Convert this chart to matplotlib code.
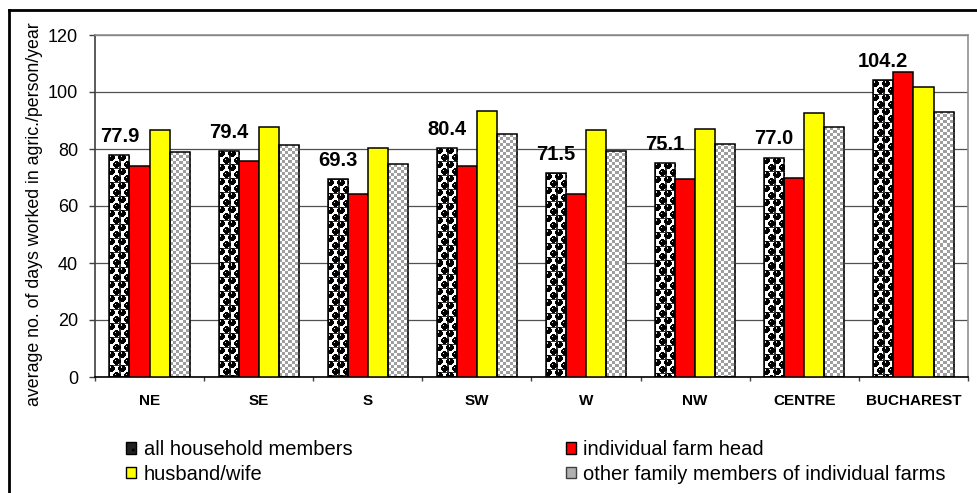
import numpy as np
import matplotlib
matplotlib.use("Agg")
import matplotlib.pyplot as plt
from matplotlib.patches import Rectangle
from matplotlib.lines import Line2D

plt.rcParams['font.family'] = ['Liberation Sans', 'DejaVu Sans']

regions = ["NE", "SE", "S", "SW", "W", "NW", "CENTRE", "BUCHAREST"]
all_members = [77.9, 79.4, 69.3, 80.4, 71.5, 75.1, 77.0, 104.2]
farm_head = [74.0, 75.8, 64.1, 74.0, 64.1, 69.3, 69.9, 107.0]
husband_wife = [86.6, 87.6, 80.2, 93.4, 86.7, 87.0, 92.5, 101.6]
other_members = [78.8, 81.3, 74.6, 85.2, 79.3, 81.9, 87.6, 93.0]
series_names = ["all household members", "individual farm head",
                "husband/wife", "other family members of individual farms"]
y_ticks = [0, 20, 40, 60, 80, 100, 120]

W, H, DPI = 978, 493, 100
fig = plt.figure(figsize=(W / DPI, H / DPI), dpi=DPI)
ax_l, ax_r, ax_t, ax_b = 95, 968, 35, 377
ax = fig.add_axes([ax_l / W, 1 - ax_b / H, (ax_r - ax_l) / W, (ax_b - ax_t) / H])

n = len(regions)
x = np.arange(n)
bw = 0.184
ax.set_xlim(-0.5, n - 0.5)
ax.set_ylim(0, 120)

px_per_cat = (ax_r - ax_l) / n
px_per_unit = (ax_b - ax_t) / 120.0


def ball_tile():
    tw, th = 10, 14
    yy, xx = np.mgrid[0:th, 0:tw] + 0.5
    img = np.ones((th, tw, 3))
    for cx, cy in [(2.5, 3.5), (7.5, 10.5), (12.5, 3.5), (-2.5, 10.5), (2.5, 17.5), (7.5, -3.5)]:
        d = np.hypot(xx - cx, yy - cy)
        img[d < 3.6] = 0.0
        hl = np.hypot(xx - (cx - 1.0), yy - (cy - 1.2))
        img[hl < 0.8] = 0.85
    # thin dark grid joining the balls
    img[:, 0] = np.minimum(img[:, 0], 0.2)
    img[0, :] = np.minimum(img[0, :], 0.2)
    return img


def check_tile():
    img = np.ones((6, 6, 3))
    img[0:3, 0:3] = 0.62
    img[3:6, 3:6] = 0.62
    return img


def fill_pattern(patch, tile, x0, x1, h):
    wpx = max(int(round((x1 - x0) * px_per_cat)), 1)
    hpx = max(int(round(h * px_per_unit)), 1)
    th, tw = tile.shape[:2]
    reps = (hpx // th + 2, wpx // tw + 2, 1)
    big = np.tile(tile, reps)[:hpx, :wpx]
    im = ax.imshow(big, extent=(x0, x1, 0, h), origin='upper',
                   interpolation='nearest', aspect='auto', zorder=2)
    im.set_clip_path(patch)


bt, ct = ball_tile(), check_tile()
offsets = [-1.5, -0.5, 0.5, 1.5]
colors = ['white', '#ff0000', '#ffff00', 'white']
for k, (vals, col) in enumerate(zip([all_members, farm_head, husband_wife, other_members], colors)):
    bars = ax.bar(x + offsets[k] * bw, vals, bw, color=col, edgecolor='black',
                  linewidth=1.1, zorder=3 if k in (1, 2) else 2)
    if k in (0, 3):
        for b in bars:
            b.set_facecolor('none')
            b.set_zorder(4)
            x0 = b.get_x()
            fill_pattern(b, bt if k == 0 else ct, x0, x0 + b.get_width(), b.get_height())
    if k == 0:
        for b, v in zip(bars, all_members):
            ax.annotate(f"{v:.1f}", (b.get_x() + b.get_width() / 2, v),
                        xytext=(0, 9.5), textcoords='offset points',
                        ha='center', va='baseline', fontsize=14.5,
                        fontweight='bold', zorder=5)

ax.set_yticks(y_ticks)
ax.set_yticklabels([str(t) for t in y_ticks], fontsize=13)
ax.tick_params(axis='y', direction='out', length=4.3, width=1, pad=8, color='#404040')
ax.set_xticks(x)
ax.set_xticklabels(regions, fontsize=11, fontweight='bold')
ax.set_xticks(np.arange(n + 1) - 0.5, minor=True)
ax.tick_params(axis='x', which='major', length=0, pad=12.5)
ax.tick_params(axis='x', which='minor', direction='out', length=3, width=1, color='#404040')
ax.yaxis.grid(True, color='#505050', linewidth=0.9, zorder=0)
ax.set_axisbelow(True)
for s in ['top', 'right']:
    ax.spines[s].set_color('#909090')
    ax.spines[s].set_linewidth(1.2)
ax.spines['left'].set_color('#404040')
ax.spines['left'].set_linewidth(1.2)
ax.spines['bottom'].set_color('black')
ax.spines['bottom'].set_linewidth(1.2)

fig.text(35 / W, 1 - 214 / H, "average no. of days worked in agric./person/year",
         rotation=90, ha='center', va='center', fontsize=12.8)

# legend
handles = [
    Rectangle((0, 0), 1, 1, facecolor='#222222', edgecolor='black', hatch='..'),
    Rectangle((0, 0), 1, 1, facecolor='#ff0000', edgecolor='black'),
    Rectangle((0, 0), 1, 1, facecolor='#ffff00', edgecolor='black'),
    Rectangle((0, 0), 1, 1, facecolor='#b0b0b0', edgecolor='#404040'),
]
order = [0, 2, 1, 3]
leg = fig.legend([handles[i] for i in order], [series_names[i] for i in order],
                 loc='upper left', bbox_to_anchor=(126 / W, 1 - 440 / H),
                 ncol=2, frameon=False, fontsize=14.5, handlelength=0.52,
                 handleheight=0.52, handletextpad=0.35, columnspacing=10.6,
                 labelspacing=0.28, borderpad=0, borderaxespad=0)

# outer frame
fig.add_artist(Line2D([9 / W, 9 / W], [0, 1 - 10 / H], color='black', linewidth=2,
                      transform=fig.transFigure))
fig.add_artist(Line2D([9 / W, 1], [1 - 10 / H, 1 - 10 / H], color='black', linewidth=2,
                      transform=fig.transFigure))

fig.savefig("out.png", dpi=DPI)
